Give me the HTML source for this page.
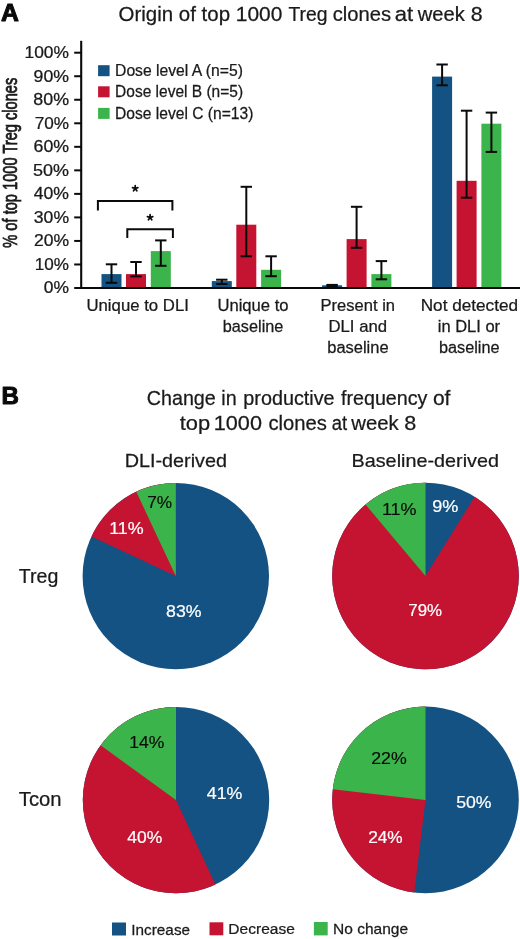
<!DOCTYPE html>
<html><head><meta charset="utf-8"><style>
html,body{margin:0;padding:0;background:#fff;}
svg{display:block;will-change:transform;}
text{font-family:"Liberation Sans", sans-serif;}
</style></head><body>
<svg width="520" height="939" viewBox="0 0 520 939">
<rect width="520" height="939" fill="#fff"/>
<text transform="translate(1.08,21.30) scale(1.0196,1)" font-size="24.3" fill="#0a0a0a" stroke="#0a0a0a" stroke-width="1.0" stroke-linejoin="round" font-weight="bold">A</text>
<text transform="translate(118.58,21.30) scale(1.0337,1)" font-size="19.8" fill="#1a1a1a" stroke="#1a1a1a" stroke-width="0.25">Origin of top</text>
<text transform="translate(235.73,21.30) scale(1.0579,1)" font-size="19.8" fill="#1a1a1a" stroke="#1a1a1a" stroke-width="0.25">1000</text>
<text transform="translate(288.41,21.30) scale(0.9762,1)" font-size="19.8" fill="#1a1a1a" stroke="#1a1a1a" stroke-width="0.25">Treg</text>
<text transform="translate(332.79,21.30) scale(1.0191,1)" font-size="19.8" fill="#1a1a1a" stroke="#1a1a1a" stroke-width="0.25">clones</text>
<text transform="translate(394.72,21.30) scale(1.1130,1)" font-size="19.8" fill="#1a1a1a" stroke="#1a1a1a" stroke-width="0.25">at</text>
<text transform="translate(417.70,21.30) scale(1.0188,1)" font-size="19.8" fill="#1a1a1a" stroke="#1a1a1a" stroke-width="0.25">week</text>
<text transform="translate(470.71,21.30) scale(1.0800,1)" font-size="19.8" fill="#1a1a1a" stroke="#1a1a1a" stroke-width="0.25">8</text>
<line x1="81.20" y1="40.80" x2="81.20" y2="289.00" stroke="#0a0a0a" stroke-width="2.1"/>
<line x1="74.20" y1="288.00" x2="520.00" y2="288.00" stroke="#0a0a0a" stroke-width="2.0"/>
<text transform="translate(43.80,293.40) scale(1.1183,1)" font-size="15.6" fill="#1a1a1a" stroke="#1a1a1a" stroke-width="0.25">0%</text>
<line x1="74.20" y1="264.47" x2="81.20" y2="264.47" stroke="#0a0a0a" stroke-width="2.0"/>
<text transform="translate(34.82,269.87) scale(1.0955,1)" font-size="15.6" fill="#1a1a1a" stroke="#1a1a1a" stroke-width="0.25">10%</text>
<line x1="74.20" y1="240.94" x2="81.20" y2="240.94" stroke="#0a0a0a" stroke-width="2.0"/>
<text transform="translate(33.92,246.34) scale(1.1247,1)" font-size="15.6" fill="#1a1a1a" stroke="#1a1a1a" stroke-width="0.25">20%</text>
<line x1="74.20" y1="217.41" x2="81.20" y2="217.41" stroke="#0a0a0a" stroke-width="2.0"/>
<text transform="translate(33.80,222.81) scale(1.1289,1)" font-size="15.6" fill="#1a1a1a" stroke="#1a1a1a" stroke-width="0.25">30%</text>
<line x1="74.20" y1="193.88" x2="81.20" y2="193.88" stroke="#0a0a0a" stroke-width="2.0"/>
<text transform="translate(33.75,199.28) scale(1.1304,1)" font-size="15.6" fill="#1a1a1a" stroke="#1a1a1a" stroke-width="0.25">40%</text>
<line x1="74.20" y1="170.35" x2="81.20" y2="170.35" stroke="#0a0a0a" stroke-width="2.0"/>
<text transform="translate(33.08,175.75) scale(1.1522,1)" font-size="15.6" fill="#1a1a1a" stroke="#1a1a1a" stroke-width="0.25">50%</text>
<line x1="74.20" y1="146.82" x2="81.20" y2="146.82" stroke="#0a0a0a" stroke-width="2.0"/>
<text transform="translate(33.51,152.22) scale(1.1381,1)" font-size="15.6" fill="#1a1a1a" stroke="#1a1a1a" stroke-width="0.25">60%</text>
<line x1="74.20" y1="123.29" x2="81.20" y2="123.29" stroke="#0a0a0a" stroke-width="2.0"/>
<text transform="translate(34.74,128.69) scale(1.0979,1)" font-size="15.6" fill="#1a1a1a" stroke="#1a1a1a" stroke-width="0.25">70%</text>
<line x1="74.20" y1="99.76" x2="81.20" y2="99.76" stroke="#0a0a0a" stroke-width="2.0"/>
<text transform="translate(33.30,105.16) scale(1.1452,1)" font-size="15.6" fill="#1a1a1a" stroke="#1a1a1a" stroke-width="0.25">80%</text>
<line x1="74.20" y1="76.23" x2="81.20" y2="76.23" stroke="#0a0a0a" stroke-width="2.0"/>
<text transform="translate(33.60,81.63) scale(1.1351,1)" font-size="15.6" fill="#1a1a1a" stroke="#1a1a1a" stroke-width="0.25">90%</text>
<line x1="74.20" y1="52.70" x2="81.20" y2="52.70" stroke="#0a0a0a" stroke-width="2.0"/>
<text transform="translate(24.50,58.10) scale(1.1146,1)" font-size="15.6" fill="#1a1a1a" stroke="#1a1a1a" stroke-width="0.25">100%</text>
<g transform="translate(17.3,247.2) rotate(-90)">
<text transform="translate(-0.51,0) scale(0.7212,1)" font-size="20.3" fill="#1a1a1a" stroke="#1a1a1a" stroke-width="0.75">% of top 1000 Treg clones</text>
</g>
<rect x="101.50" y="274.10" width="20.00" height="12.90" fill="#135282"/>
<rect x="126.00" y="274.10" width="20.00" height="12.90" fill="#c41432"/>
<rect x="150.80" y="251.10" width="20.00" height="35.90" fill="#3bb44b"/>
<rect x="211.80" y="281.10" width="20.00" height="5.90" fill="#135282"/>
<rect x="236.30" y="224.70" width="20.00" height="62.30" fill="#c41432"/>
<rect x="261.10" y="269.80" width="20.00" height="17.20" fill="#3bb44b"/>
<rect x="322.10" y="285.30" width="20.00" height="1.70" fill="#135282"/>
<rect x="346.60" y="239.10" width="20.00" height="47.90" fill="#c41432"/>
<rect x="371.40" y="274.10" width="20.00" height="12.90" fill="#3bb44b"/>
<rect x="432.10" y="76.60" width="20.00" height="210.40" fill="#135282"/>
<rect x="456.60" y="180.80" width="20.00" height="106.20" fill="#c41432"/>
<rect x="481.40" y="123.70" width="20.00" height="163.30" fill="#3bb44b"/>
<line x1="111.50" y1="264.30" x2="111.50" y2="282.80" stroke="#0a0a0a" stroke-width="2"/>
<line x1="105.80" y1="264.30" x2="117.20" y2="264.30" stroke="#0a0a0a" stroke-width="2"/>
<line x1="105.80" y1="282.80" x2="117.20" y2="282.80" stroke="#0a0a0a" stroke-width="2"/>
<line x1="136.00" y1="262.00" x2="136.00" y2="276.40" stroke="#0a0a0a" stroke-width="2"/>
<line x1="130.30" y1="262.00" x2="141.70" y2="262.00" stroke="#0a0a0a" stroke-width="2"/>
<line x1="130.30" y1="276.40" x2="141.70" y2="276.40" stroke="#0a0a0a" stroke-width="2"/>
<line x1="160.80" y1="240.40" x2="160.80" y2="265.80" stroke="#0a0a0a" stroke-width="2"/>
<line x1="155.10" y1="240.40" x2="166.50" y2="240.40" stroke="#0a0a0a" stroke-width="2"/>
<line x1="155.10" y1="265.80" x2="166.50" y2="265.80" stroke="#0a0a0a" stroke-width="2"/>
<line x1="221.80" y1="279.70" x2="221.80" y2="284.00" stroke="#0a0a0a" stroke-width="2"/>
<line x1="216.10" y1="279.70" x2="227.50" y2="279.70" stroke="#0a0a0a" stroke-width="2"/>
<line x1="216.10" y1="284.00" x2="227.50" y2="284.00" stroke="#0a0a0a" stroke-width="2"/>
<line x1="246.30" y1="186.80" x2="246.30" y2="256.30" stroke="#0a0a0a" stroke-width="2"/>
<line x1="240.60" y1="186.80" x2="252.00" y2="186.80" stroke="#0a0a0a" stroke-width="2"/>
<line x1="240.60" y1="256.30" x2="252.00" y2="256.30" stroke="#0a0a0a" stroke-width="2"/>
<line x1="271.10" y1="256.30" x2="271.10" y2="276.20" stroke="#0a0a0a" stroke-width="2"/>
<line x1="265.40" y1="256.30" x2="276.80" y2="256.30" stroke="#0a0a0a" stroke-width="2"/>
<line x1="265.40" y1="276.20" x2="276.80" y2="276.20" stroke="#0a0a0a" stroke-width="2"/>
<line x1="332.10" y1="284.90" x2="332.10" y2="286.30" stroke="#0a0a0a" stroke-width="2"/>
<line x1="326.40" y1="284.90" x2="337.80" y2="284.90" stroke="#0a0a0a" stroke-width="2"/>
<line x1="326.40" y1="286.30" x2="337.80" y2="286.30" stroke="#0a0a0a" stroke-width="2"/>
<line x1="356.60" y1="206.80" x2="356.60" y2="247.80" stroke="#0a0a0a" stroke-width="2"/>
<line x1="350.90" y1="206.80" x2="362.30" y2="206.80" stroke="#0a0a0a" stroke-width="2"/>
<line x1="350.90" y1="247.80" x2="362.30" y2="247.80" stroke="#0a0a0a" stroke-width="2"/>
<line x1="381.40" y1="261.10" x2="381.40" y2="279.30" stroke="#0a0a0a" stroke-width="2"/>
<line x1="375.70" y1="261.10" x2="387.10" y2="261.10" stroke="#0a0a0a" stroke-width="2"/>
<line x1="375.70" y1="279.30" x2="387.10" y2="279.30" stroke="#0a0a0a" stroke-width="2"/>
<line x1="442.10" y1="64.50" x2="442.10" y2="85.30" stroke="#0a0a0a" stroke-width="2"/>
<line x1="436.40" y1="64.50" x2="447.80" y2="64.50" stroke="#0a0a0a" stroke-width="2"/>
<line x1="436.40" y1="85.30" x2="447.80" y2="85.30" stroke="#0a0a0a" stroke-width="2"/>
<line x1="466.60" y1="110.70" x2="466.60" y2="197.70" stroke="#0a0a0a" stroke-width="2"/>
<line x1="460.90" y1="110.70" x2="472.30" y2="110.70" stroke="#0a0a0a" stroke-width="2"/>
<line x1="460.90" y1="197.70" x2="472.30" y2="197.70" stroke="#0a0a0a" stroke-width="2"/>
<line x1="491.40" y1="112.60" x2="491.40" y2="151.90" stroke="#0a0a0a" stroke-width="2"/>
<line x1="485.70" y1="112.60" x2="497.10" y2="112.60" stroke="#0a0a0a" stroke-width="2"/>
<line x1="485.70" y1="151.90" x2="497.10" y2="151.90" stroke="#0a0a0a" stroke-width="2"/>
<rect x="98.10" y="65.20" width="11.50" height="11.00" fill="#135282"/>
<rect x="98.10" y="86.30" width="11.50" height="11.00" fill="#c41432"/>
<rect x="98.10" y="107.90" width="11.50" height="11.00" fill="#3bb44b"/>
<text transform="translate(115.04,75.80) scale(1.0072,1)" font-size="15.6" fill="#1a1a1a" stroke="#1a1a1a" stroke-width="0.25">Dose level A (n=5)</text>
<text transform="translate(115.06,97.20) scale(0.9951,1)" font-size="15.6" fill="#1a1a1a" stroke="#1a1a1a" stroke-width="0.25">Dose level B (n=5)</text>
<text transform="translate(115.05,118.60) scale(1.0005,1)" font-size="15.6" fill="#1a1a1a" stroke="#1a1a1a" stroke-width="0.25">Dose level C (n=13)</text>
<path d="M97.90,210.50 V201.00 H172.40 V210.50" fill="none" stroke="#0a0a0a" stroke-width="2"/>
<path d="M127.30,238.10 V229.20 H172.90 V238.10" fill="none" stroke="#0a0a0a" stroke-width="2"/>
<path d="M135.20,188.50 L135.20,185.70 M135.20,188.50 L137.86,187.63 M135.20,188.50 L136.85,190.77 M135.20,188.50 L133.55,190.77 M135.20,188.50 L132.54,187.63 " stroke="#0a0a0a" stroke-width="1.75" fill="none" stroke-linecap="round"/>
<path d="M150.10,217.50 L150.10,214.70 M150.10,217.50 L152.76,216.63 M150.10,217.50 L151.75,219.77 M150.10,217.50 L148.45,219.77 M150.10,217.50 L147.44,216.63 " stroke="#0a0a0a" stroke-width="1.75" fill="none" stroke-linecap="round"/>
<text transform="translate(86.44,311.10) scale(1.0471,1)" font-size="16.0" fill="#1a1a1a" stroke="#1a1a1a" stroke-width="0.25">Unique to DLI</text>
<text transform="translate(217.45,311.10) scale(1.0384,1)" font-size="16.0" fill="#1a1a1a" stroke="#1a1a1a" stroke-width="0.25">Unique to</text>
<text transform="translate(222.74,332.10) scale(1.0183,1)" font-size="16.0" fill="#1a1a1a" stroke="#1a1a1a" stroke-width="0.25">baseline</text>
<text transform="translate(320.58,311.20) scale(1.0347,1)" font-size="16.0" fill="#1a1a1a" stroke="#1a1a1a" stroke-width="0.25">Present in</text>
<text transform="translate(328.46,332.30) scale(1.0469,1)" font-size="16.0" fill="#1a1a1a" stroke="#1a1a1a" stroke-width="0.25">DLI and</text>
<text transform="translate(327.23,353.10) scale(1.0304,1)" font-size="16.0" fill="#1a1a1a" stroke="#1a1a1a" stroke-width="0.25">baseline</text>
<text transform="translate(420.73,311.20) scale(1.0735,1)" font-size="16.0" fill="#1a1a1a" stroke="#1a1a1a" stroke-width="0.25">Not detected</text>
<text transform="translate(437.73,332.30) scale(1.0318,1)" font-size="16.0" fill="#1a1a1a" stroke="#1a1a1a" stroke-width="0.25">in DLI or</text>
<text transform="translate(438.94,352.90) scale(1.0166,1)" font-size="16.0" fill="#1a1a1a" stroke="#1a1a1a" stroke-width="0.25">baseline</text>
<text transform="translate(1.43,404.30) scale(0.9917,1)" font-size="24.3" fill="#0a0a0a" stroke="#0a0a0a" stroke-width="1.0" stroke-linejoin="round" font-weight="bold">B</text>
<text transform="translate(146.71,405.20) scale(0.9865,1)" font-size="20" fill="#1a1a1a" stroke="#1a1a1a" stroke-width="0.25">Change in</text>
<text transform="translate(243.31,405.20) scale(0.9900,1)" font-size="20" fill="#1a1a1a" stroke="#1a1a1a" stroke-width="0.25">productive</text>
<text transform="translate(340.95,405.20) scale(0.9857,1)" font-size="20" fill="#1a1a1a" stroke="#1a1a1a" stroke-width="0.25">frequency</text>
<text transform="translate(432.91,405.20) scale(1.0535,1)" font-size="20" fill="#1a1a1a" stroke="#1a1a1a" stroke-width="0.25">of</text>
<text transform="translate(179.67,429.80) scale(1.0936,1)" font-size="20" fill="#1a1a1a" stroke="#1a1a1a" stroke-width="0.25">top</text>
<text transform="translate(213.78,429.80) scale(1.0827,1)" font-size="20" fill="#1a1a1a" stroke="#1a1a1a" stroke-width="0.25">1000</text>
<text transform="translate(268.39,429.80) scale(1.0124,1)" font-size="20" fill="#1a1a1a" stroke="#1a1a1a" stroke-width="0.25">clones</text>
<text transform="translate(331.76,429.80) scale(0.9236,1)" font-size="20" fill="#1a1a1a" stroke="#1a1a1a" stroke-width="0.25">at</text>
<text transform="translate(351.25,429.80) scale(1.0171,1)" font-size="20" fill="#1a1a1a" stroke="#1a1a1a" stroke-width="0.25">week</text>
<text transform="translate(404.35,429.80) scale(1.0800,1)" font-size="20" fill="#1a1a1a" stroke="#1a1a1a" stroke-width="0.25">8</text>
<text transform="translate(124.67,467.00) scale(1.0422,1)" font-size="19" fill="#1a1a1a" stroke="#1a1a1a" stroke-width="0.25">DLI-derived</text>
<text transform="translate(351.52,467.20) scale(1.0425,1)" font-size="19" fill="#1a1a1a" stroke="#1a1a1a" stroke-width="0.25">Baseline-derived</text>
<text transform="translate(18.81,582.80) scale(0.9554,1)" font-size="20.5" fill="#1a1a1a" stroke="#1a1a1a" stroke-width="0.25">Treg</text>
<text transform="translate(18.80,806.30) scale(0.9877,1)" font-size="20.5" fill="#1a1a1a" stroke="#1a1a1a" stroke-width="0.25">Tcon</text>
<circle cx="175.8" cy="576.1" r="93.2" fill="#135282"/>
<path d="M175.80,576.10 L91.47,536.42 A93.2,93.2 0 0 1 175.799,482.90 Z" fill="#c41432"/>
<path d="M175.80,576.10 L136.26,491.70 A93.2,93.2 0 0 1 175.799,482.90 Z" fill="#3bb44b"/>
<circle cx="425.5" cy="576.0" r="93.3" fill="#135282"/>
<path d="M425.50,576.00 L474.66,496.71 A93.3,93.3 0 1 1 425.499,482.70 Z" fill="#c41432"/>
<path d="M425.50,576.00 L365.53,504.53 A93.3,93.3 0 0 1 425.499,482.70 Z" fill="#3bb44b"/>
<circle cx="176.0" cy="800.1" r="93.2" fill="#135282"/>
<path d="M176.00,800.10 L215.39,884.57 A93.2,93.2 0 1 1 175.999,706.90 Z" fill="#c41432"/>
<path d="M176.00,800.10 L100.60,745.32 A93.2,93.2 0 0 1 175.999,706.90 Z" fill="#3bb44b"/>
<circle cx="425.5" cy="799.9" r="93.3" fill="#135282"/>
<path d="M425.50,799.90 L414.29,892.52 A93.3,93.3 0 0 1 425.499,706.60 Z" fill="#c41432"/>
<path d="M425.50,799.90 L332.80,789.34 A93.3,93.3 0 0 1 425.499,706.60 Z" fill="#3bb44b"/>
<text transform="translate(147.14,507.60) scale(1.0936,1)" font-size="15.8" fill="#0a0a0a" stroke="#0a0a0a" stroke-width="0.15">7%</text>
<text transform="translate(109.16,533.70) scale(1.1337,1)" font-size="15.8" fill="#ffffff" stroke="#ffffff" stroke-width="0.2">11%</text>
<text transform="translate(166.10,616.60) scale(1.1208,1)" font-size="15.8" fill="#ffffff" stroke="#ffffff" stroke-width="0.2">83%</text>
<text transform="translate(381.95,514.80) scale(1.1372,1)" font-size="15.8" fill="#0a0a0a" stroke="#0a0a0a" stroke-width="0.15">11%</text>
<text transform="translate(432.19,511.70) scale(1.1453,1)" font-size="15.8" fill="#ffffff" stroke="#ffffff" stroke-width="0.2">9%</text>
<text transform="translate(408.36,616.20) scale(1.0675,1)" font-size="15.8" fill="#ffffff" stroke="#ffffff" stroke-width="0.2">79%</text>
<text transform="translate(129.28,747.80) scale(1.1118,1)" font-size="15.8" fill="#0a0a0a" stroke="#0a0a0a" stroke-width="0.15">14%</text>
<text transform="translate(206.74,798.50) scale(1.1259,1)" font-size="15.8" fill="#ffffff" stroke="#ffffff" stroke-width="0.2">41%</text>
<text transform="translate(127.35,842.70) scale(1.1064,1)" font-size="15.8" fill="#ffffff" stroke="#ffffff" stroke-width="0.2">40%</text>
<text transform="translate(371.21,763.70) scale(1.1237,1)" font-size="15.8" fill="#0a0a0a" stroke="#0a0a0a" stroke-width="0.15">22%</text>
<text transform="translate(456.19,807.80) scale(1.1179,1)" font-size="15.8" fill="#ffffff" stroke="#ffffff" stroke-width="0.2">50%</text>
<text transform="translate(368.14,843.40) scale(1.0940,1)" font-size="15.8" fill="#ffffff" stroke="#ffffff" stroke-width="0.2">24%</text>
<rect x="112.00" y="922.50" width="14.00" height="13.00" fill="#135282"/>
<rect x="209.50" y="922.30" width="13.80" height="13.00" fill="#c41432"/>
<rect x="313.90" y="922.00" width="13.80" height="13.40" fill="#3bb44b"/>
<text transform="translate(131.32,934.60) scale(1.0082,1)" font-size="15.2" fill="#1a1a1a" stroke="#1a1a1a" stroke-width="0.25">Increase</text>
<text transform="translate(228.36,934.40) scale(1.0213,1)" font-size="15.2" fill="#1a1a1a" stroke="#1a1a1a" stroke-width="0.25">Decrease</text>
<text transform="translate(332.96,934.30) scale(1.0225,1)" font-size="15.2" fill="#1a1a1a" stroke="#1a1a1a" stroke-width="0.25">No change</text>
</svg>
</body></html>
